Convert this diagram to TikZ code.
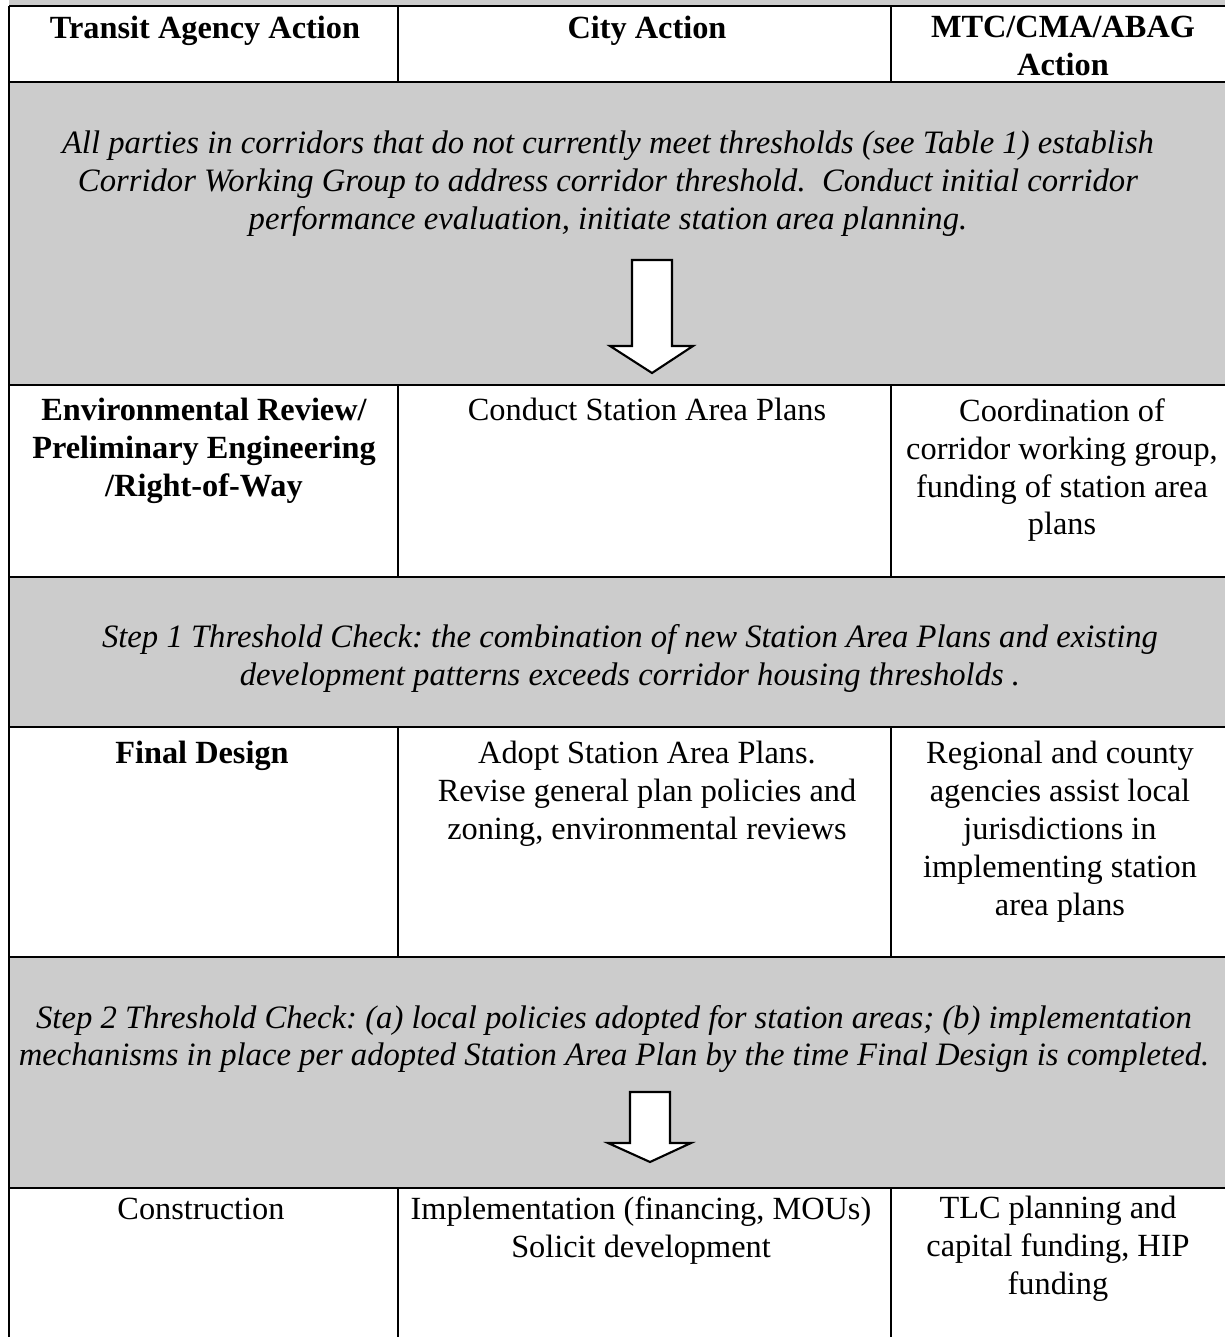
\documentclass[tikz,border=0pt]{standalone}
\usepackage{fontspec}
\setmainfont{Liberation Serif}
\usepackage{tikz}
\definecolor{bandgray}{gray}{0.80}
\frenchspacing

\begin{document}
\begin{tikzpicture}[x=0.02cm, y=-0.02cm,
  cell/.style={anchor=north, align=center, inner sep=0pt, font=\fontsize{18.4}{21.6}\selectfont},
  headcell/.style={cell, font=\fontsize{18.4}{21.6}\selectfont\bfseries},
  band/.style={align=center, inner sep=0pt, font=\fontsize{18.6}{21.6}\selectfont\itshape},
  tableline/.style={line width=1pt},
  blockarrow/.style={draw=black, fill=white, line width=1.2pt, line join=miter}]
\useasboundingbox (0,0) rectangle (1225,1337);

% gray bands across all columns
\fill[bandgray] (9,0) rectangle (1225,6);
\fill[bandgray] (9,82) rectangle (1225,385);
\fill[bandgray] (9,577) rectangle (1225,727);
\fill[bandgray] (9,957) rectangle (1225,1188);

% rules
\foreach \y in {6,82,385,577,727,957,1188}
  \draw[tableline] (9,\y) -- (1225,\y);
\draw[tableline] (9,6) -- (9,1337);
\foreach \top/\bot in {6/82,385/577,727/957,1188/1337}{
  \draw[tableline] (398,\top) -- (398,\bot);
  \draw[tableline] (891,\top) -- (891,\bot);
}

% header row
\node[headcell] (hTransit) at (205,16) {Transit Agency Action};
\node[headcell] (hCity) at (647,16) {City Action};
\node[headcell] (hRegion) at (1063,16) {MTC/CMA/ABAG\\Action};

% band 1
\node[band] (band1) at (608,184) {All parties in corridors that do not currently meet thresholds (see Table 1) establish\\
  Corridor Working Group to address corridor threshold.\ \ Conduct initial corridor\\
  performance evaluation, initiate station area planning.};
\draw[blockarrow] (632,260) -- (672,260) -- (672,346) -- (693,346) -- (652,373)
  -- (610,346) -- (632,346) -- cycle;

% row 2
\node[headcell] (envReview) at (204,398) {Environmental Review/\\Preliminary Engineering\\/Right-of-Way};
\node[cell] (stationPlans) at (647,398) {Conduct Station Area Plans};
\node[cell] (coordination) at (1062,398) {Coordination of\\corridor working group,\\funding of station area\\plans};

% band 2
\node[band] (band2) at (630,658) {Step 1 Threshold Check: the combination of new Station Area Plans and existing\\
  development patterns exceeds corridor housing thresholds .};

% row 3
\node[headcell] (finalDesign) at (202,741) {Final Design};
\node[cell] (adoptPlans) at (647,741) {Adopt Station Area Plans.\\Revise general plan policies and\\zoning, environmental reviews};
\node[cell] (assist) at (1060,741) {Regional and county\\agencies assist local\\jurisdictions in\\implementing station\\area plans};

% band 3
\node[band] (band3) at (614,1039) {Step 2 Threshold Check: (a) local policies adopted for station areas; (b) implementation\\
  mechanisms in place per adopted Station Area Plan by the time Final Design is completed.};
\draw[blockarrow] (630,1092) -- (670,1092) -- (670,1143) -- (691,1143) -- (650,1162)
  -- (608,1143) -- (630,1143) -- cycle;

% row 4
\node[cell] (construction) at (201,1198) {Construction};
\node[cell] (implementation) at (641,1196) {Implementation (financing, MOUs)\\Solicit development};
\node[cell] (tlc) at (1058,1196) {TLC planning and\\capital funding, HIP\\funding};
\end{tikzpicture}
\end{document}
